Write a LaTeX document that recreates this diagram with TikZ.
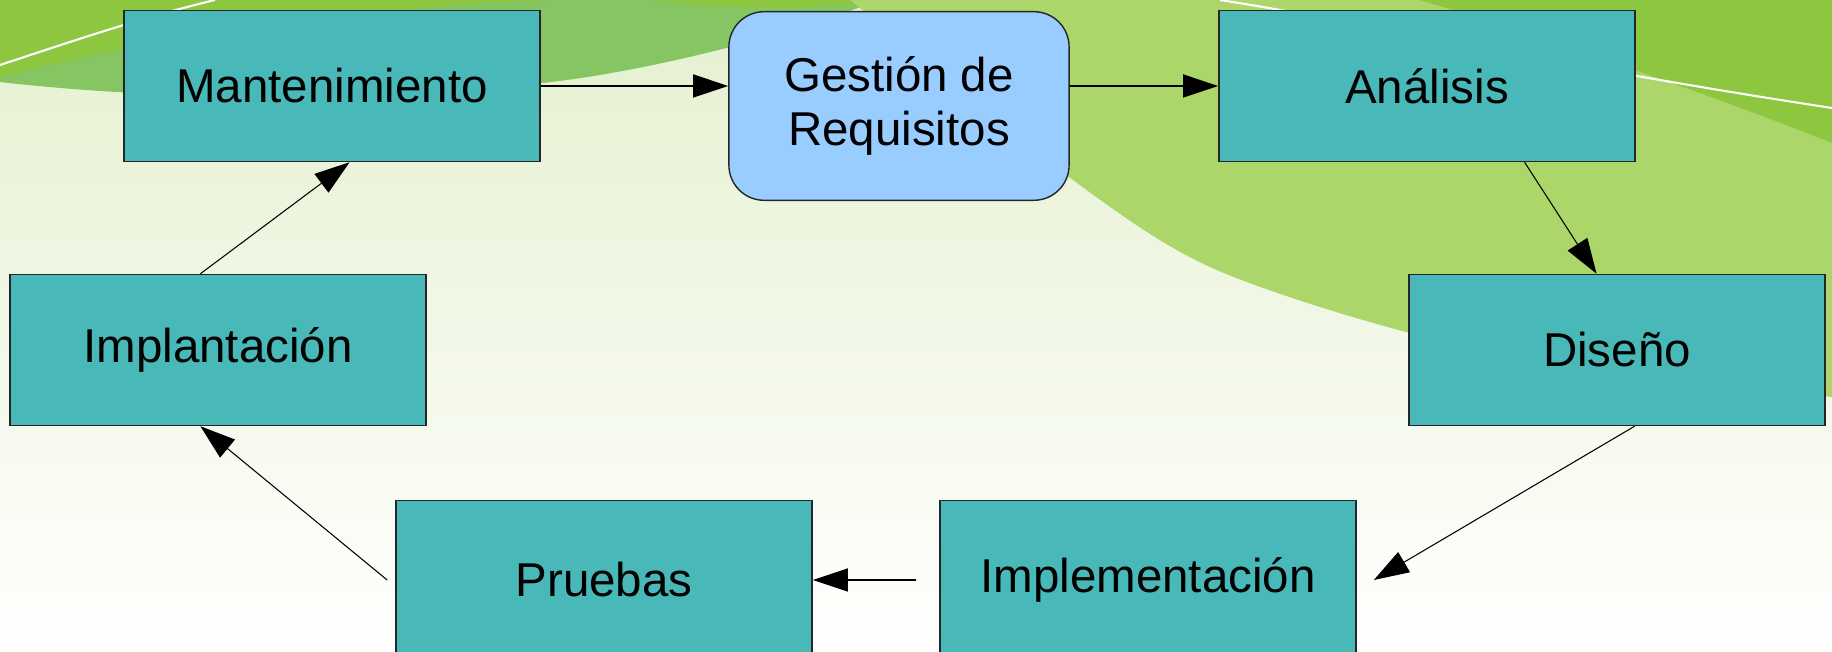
\documentclass[tikz,border=0pt]{standalone}
\usepackage{fontspec}
\setmainfont{Liberation Sans}
\usetikzlibrary{calc,arrows.meta}

\definecolor{verdeoscuro}{RGB}{141,198,63}
\definecolor{verdemedio}{RGB}{133,198,98}
\definecolor{verdeclaro}{RGB}{172,214,106}
\definecolor{crema}{RGB}{228,240,206}
\definecolor{turquesa}{RGB}{72,184,184}
\definecolor{celeste}{RGB}{153,204,255}

\begin{document}
\begin{tikzpicture}[x=0.01cm,y=-0.01cm,
	caja/.style={draw=black!85,line width=0.4pt,fill=turquesa,minimum width=4.16cm,minimum height=1.51cm,align=center,font=\fontsize{13.5}{15.2}\selectfont},
	flecha/.style={-{Triangle[length=10pt,width=6.6pt]},line width=0.3pt}]
			\useasboundingbox (0,0) rectangle (1832,652);
			\clip (0,0) rectangle (1832,652);
			%draw background
			\shade[top color=crema,bottom color=white] (0,0) rectangle (1832,652);
			\fill[verdemedio] (0,0) -- (0,82) .. controls (200,105) and (450,100) .. (600,75) .. controls (700,58) and (800,30) .. (880,0) -- cycle;
			\fill[verdeoscuro] (0,0) -- (0,77) .. controls (150,40) and (350,5) .. (560,0) -- cycle;
			\fill[verdeoscuro] (650,0) .. controls (720,10) and (820,10) .. (880,0) -- cycle;
			\fill[verdeclaro] plot[smooth] coordinates {(850,0) (1069,177) (1210,267) (1410,333) (1620,372) (1832,397)} -- (1832,0) -- cycle;
			\fill[verdeoscuro] (1420,0) .. controls (1520,30) and (1700,90) .. (1832,143) -- (1832,0) -- cycle;
			\draw[white,line width=0.6pt] (0,65) .. controls (70,42) and (140,18) .. (215,0);
			\draw[white,line width=0.6pt] (1220,0) .. controls (1350,20) and (1550,65) .. (1832,108);
			%draw boxes
			\foreach \x/\y/\nombre/\texto in {332/86/mantenimiento/Mantenimiento, 1427/86/analisis/Análisis, 1617/350/diseno/Diseño, 218/350/implantacion/Implantación}{
				\node[caja] (\nombre) at (\x,\y) {\texto};
			}
			\node[caja,minimum height=1.59cm] (pruebas) at (604,580) {Pruebas};
			\node[caja,minimum height=1.59cm] (implementacion) at (1148,580) {Implementación};
			\node[caja,fill=celeste,rounded corners=10pt,minimum width=3.4cm,minimum height=1.885cm] (gestion) at (899,106) {Gestión de\\Requisitos};
			%draw arrows
			\draw[flecha] (mantenimiento.east) -- (mantenimiento.east -| gestion.west);
			\draw[flecha] (gestion.east |- analisis.west) -- (analisis.west);
			\draw[flecha] (analisis.-38) -- (diseno.105);
			\draw[flecha] (diseno.-77) -- ($(implementacion.east)+(17,0)$);
			\draw[flecha] ($(implementacion.west)+(-23,0)$) -- (pruebas.east);
			\draw[flecha] ($(pruebas.west)+(-8,0)$) -- (implantacion.-103);
			\draw[flecha] (implantacion.103) -- (mantenimiento.-77);
\end{tikzpicture}
\end{document}
